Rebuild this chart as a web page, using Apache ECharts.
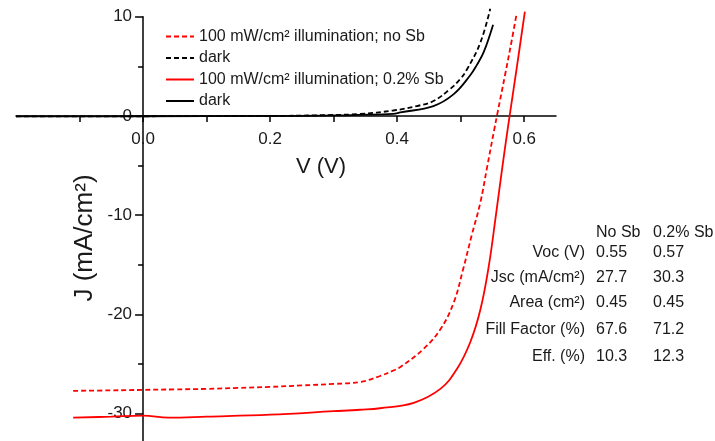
<!DOCTYPE html>
<html>
<head>
<meta charset="utf-8">
<script src="https://cdn.jsdelivr.net/npm/echarts@6/dist/echarts.min.js"></script>
<style>
  html, body { margin: 0; padding: 0; background: #fff; }
  #chart { width: 715px; height: 441px; }
</style>
</head>
<body>
<div id="chart"></div>
<script>
// J-V curves: V in volts, J in mA/cm2
var vLightNoSb = [-0.11, -0.05, 0.0, 0.05, 0.1, 0.15, 0.2, 0.25, 0.3, 0.342, 0.373, 0.394, 0.405, 0.441, 0.468, 0.489, 0.504, 0.517, 0.531, 0.541, 0.553, 0.557, 0.570, 0.580, 0.588];
var jLightNoSb = [-27.7, -27.65, -27.6, -27.55, -27.5, -27.4, -27.3, -27.15, -27.0, -26.8, -26.2, -25.65, -25.3, -23.5, -21.5, -18.8, -15.4, -12.1, -8.7, -5.35, -1.3, 0, 4.2, 7.5, 10.3];

var vDarkNoSb = [-0.2, 0.0, 0.2, 0.3, 0.342, 0.394, 0.431, 0.457, 0.483, 0.499, 0.510, 0.531, 0.5465];
var jDarkNoSb = [-0.05, -0.03, 0.0, 0.1, 0.2, 0.55, 1.0, 1.5, 2.7, 3.7, 4.7, 7.4, 10.8];

var vLightSb = [-0.11, -0.05, 0.0, 0.04, 0.1, 0.2, 0.3, 0.342, 0.373, 0.426, 0.468, 0.494, 0.515, 0.531, 0.544, 0.555, 0.565, 0.574, 0.577, 0.589, 0.601];
var jLightSb = [-30.4, -30.3, -30.2, -30.4, -30.3, -30.1, -29.75, -29.6, -29.45, -28.9, -27.5, -25.5, -22.8, -19.5, -15.2, -10.2, -5.4, -1.3, 0, 5.2, 10.5];

var vDarkSb = [-0.2, 0.0, 0.2, 0.3, 0.394, 0.405, 0.457, 0.489, 0.515, 0.525, 0.536, 0.551];
var jDarkSb = [-0.05, -0.03, 0.0, 0.05, 0.2, 0.35, 1.0, 2.2, 4.1, 5.1, 6.4, 9.2];

var seriesNames = ['light no Sb', 'dark no Sb', 'light 0.2% Sb', 'dark 0.2% Sb'];
var legendLabels = ['100 mW/cm\u00b2 illumination; no Sb', 'dark', '100 mW/cm\u00b2 illumination; 0.2% Sb', 'dark'];

var xTicks = [-0.1, 0.0, 0.1, 0.2, 0.3, 0.4, 0.5, 0.6];
var xTickLabels = [0.0, 0.2, 0.4, 0.6];

// parameter table
var tableHeader = ['No Sb', '0.2% Sb'];
var tableRows = ['Voc (V)', 'Jsc (mA/cm\u00b2)', 'Area (cm\u00b2)', 'Fill Factor (%)', 'Eff. (%)'];
var colNoSb = ['0.55', '27.7', '0.45', '67.6', '10.3'];
var colSb = ['0.57', '30.3', '0.45', '71.2', '12.3'];

var FONT = 'Liberation Sans, Arial, sans-serif';
var TXT = '#1a1a1a';

// plot area: x from -0.2 to 0.65, y from -40 to 10 (bottom part runs off the canvas)
var GRID_LEFT = 16, GRID_RIGHT = 159, GRID_TOP = 16.7, GRID_BOTTOM = -71.95;
var gridW = 715 - GRID_LEFT - GRID_RIGHT;
var gridH = 441 - GRID_TOP - GRID_BOTTOM;
var xZeroPx = GRID_LEFT + gridW * (0.2 / 0.85);
var yZeroPx = GRID_TOP + gridH * (10 / 50);

function zip(xs, ys) {
  var out = [];
  for (var i = 0; i < xs.length; i++) out.push([xs[i], ys[i]]);
  return out;
}

function lineSeries(name, xs, ys, color, dashed) {
  return {
    name: name,
    type: 'line',
    data: zip(xs, ys),
    symbol: 'none',
    showSymbol: false,
    smooth: 0.4,
    clip: false,
    lineStyle: { color: color, width: 1.8, type: dashed ? [5, 3] : 'solid' },
    itemStyle: { color: color }
  };
}

var graphics = [
  {
    type: 'text', x: 321, y: 167,
    style: { text: 'V (V)', font: '22px ' + FONT, fill: TXT, align: 'center', verticalAlign: 'middle' }
  },
  {
    type: 'text', x: 85, y: 238, rotation: Math.PI / 2,
    style: { text: 'J (mA/cm\u00b2)', font: '26px ' + FONT, fill: TXT, align: 'center', verticalAlign: 'middle' }
  }
];

// table layout
var rowY = [253, 278, 303, 330, 357];
var headerY = 233;
var labelRight = 585, col1X = 596, col2X = 653;
graphics.push({ type: 'text', x: col1X, y: headerY, style: { text: tableHeader[0], font: '16px ' + FONT, fill: TXT, align: 'left', verticalAlign: 'middle' } });
graphics.push({ type: 'text', x: col2X, y: headerY, style: { text: tableHeader[1], font: '16px ' + FONT, fill: TXT, align: 'left', verticalAlign: 'middle' } });
for (var r = 0; r < tableRows.length; r++) {
  graphics.push({ type: 'text', x: labelRight, y: rowY[r], style: { text: tableRows[r], font: '16px ' + FONT, fill: TXT, align: 'right', verticalAlign: 'middle' } });
  graphics.push({ type: 'text', x: col1X, y: rowY[r], style: { text: colNoSb[r], font: '16px ' + FONT, fill: TXT, align: 'left', verticalAlign: 'middle' } });
  graphics.push({ type: 'text', x: col2X, y: rowY[r], style: { text: colSb[r], font: '16px ' + FONT, fill: TXT, align: 'left', verticalAlign: 'middle' } });
}

var axisLineStyle = { color: '#000', width: 1.5 };

var option = {
  animation: false,
  backgroundColor: '#fff',
  grid: {
    left: GRID_LEFT,
    right: GRID_RIGHT,
    top: GRID_TOP,
    bottom: GRID_BOTTOM,
    containLabel: false,
    outerBoundsMode: 'none'
  },
  legend: {
    orient: 'vertical',
    left: 165,
    top: 28.5,
    padding: 0,
    itemWidth: 28,
    itemHeight: 14,
    itemGap: 5.5,
    data: seriesNames,
    itemStyle: { opacity: 0 },
    formatter: function (name) {
      return legendLabels[seriesNames.indexOf(name)];
    },
    textStyle: { fontSize: 16, lineHeight: 16, fontFamily: FONT, color: TXT }
  },
  xAxis: {
    type: 'value',
    min: -0.2,
    max: 0.65,
    interval: 0.1,
    // axes cross at the origin: shift the bottom axis up to J = 0
    offset: -(441 - GRID_BOTTOM - yZeroPx),
    axisLine: { onZero: false, lineStyle: axisLineStyle },
    axisTick: { customValues: xTicks, length: 6, lineStyle: axisLineStyle },
    axisLabel: {
      customValues: xTickLabels,
      formatter: function (v) { return v.toFixed(1); },
      fontSize: 17, fontFamily: FONT, color: TXT, margin: 15
    },
    splitLine: { show: false }
  },
  yAxis: {
    type: 'value',
    min: -40,
    max: 10,
    interval: 10,
    // shift the left axis right to V = 0
    offset: -(xZeroPx - GRID_LEFT),
    axisLine: { onZero: false, lineStyle: axisLineStyle },
    axisTick: { length: 8, lineStyle: axisLineStyle },
    minorTick: { show: true, splitNumber: 2, length: 5, lineStyle: axisLineStyle },
    axisLabel: { fontSize: 17, fontFamily: FONT, color: TXT, margin: 11 },
    splitLine: { show: false }
  },
  graphic: graphics,
  series: [
    lineSeries(seriesNames[0], vLightNoSb, jLightNoSb, '#ff0000', true),
    lineSeries(seriesNames[1], vDarkNoSb, jDarkNoSb, '#000000', true),
    lineSeries(seriesNames[2], vLightSb, jLightSb, '#ff0000', false),
    lineSeries(seriesNames[3], vDarkSb, jDarkSb, '#000000', false)
  ]
};

var chart = echarts.init(document.getElementById('chart'));
chart.setOption(option);
</script>
</body>
</html>
